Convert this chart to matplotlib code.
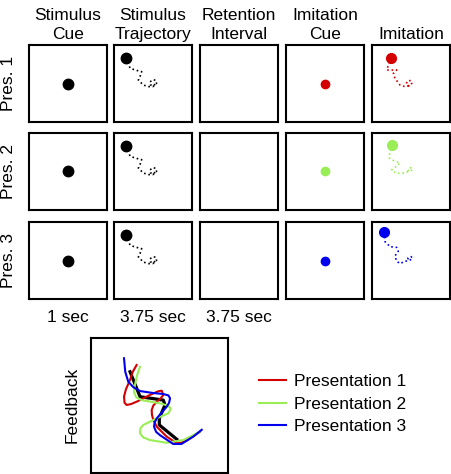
import matplotlib
matplotlib.use('Agg')
import matplotlib.pyplot as plt

plt.rcParams['font.family'] = ['Liberation Sans', 'DejaVu Sans']

col_titles = ['Stimulus\nCue', 'Stimulus\nTrajectory', 'Retention\nInterval', 'Imitation\nCue', 'Imitation']
row_labels = ['Pres. 1', 'Pres. 2', 'Pres. 3']
durations = ['1 sec', '3.75 sec', '3.75 sec']
pres_names = ['Presentation 1', 'Presentation 2', 'Presentation 3']
pres_colors = ['#d40000', '#99ee55', '#0000ee']

# stimulus trajectory (normalised box coords)
stim_x = [0.16, 0.205, 0.27, 0.355, 0.333, 0.312, 0.376, 0.44, 0.50, 0.545, 0.54, 0.50, 0.46, 0.47, 0.51, 0.53]
stim_y = [0.83, 0.70, 0.675, 0.654, 0.589, 0.545, 0.48, 0.46, 0.46, 0.50, 0.54, 0.55, 0.52, 0.48, 0.47, 0.50]

# imitation trajectories, one per presentation
imit_x = [
    [0.24, 0.19, 0.316, 0.274, 0.295, 0.359, 0.423, 0.47, 0.51, 0.50, 0.45, 0.44, 0.47, 0.50],
    [0.26, 0.23, 0.22, 0.27, 0.36, 0.316, 0.25, 0.316, 0.40, 0.47, 0.52, 0.50, 0.46, 0.47, 0.50],
    [0.155, 0.167, 0.231, 0.316, 0.337, 0.295, 0.316, 0.36, 0.423, 0.48, 0.52, 0.50, 0.46, 0.47],
]
imit_y = [
    [0.835, 0.675, 0.675, 0.632, 0.567, 0.48, 0.459, 0.47, 0.50, 0.54, 0.53, 0.49, 0.47, 0.50],
    [0.846, 0.76, 0.675, 0.645, 0.61, 0.57, 0.52, 0.474, 0.48, 0.50, 0.52, 0.55, 0.53, 0.50, 0.49],
    [0.866, 0.744, 0.68, 0.67, 0.62, 0.56, 0.49, 0.46, 0.49, 0.50, 0.53, 0.55, 0.53, 0.50],
]

# feedback panel traces
target_x = [0.285, 0.358, 0.528, 0.54, 0.4985, 0.4985, 0.626]
target_y = [0.75, 0.565, 0.54, 0.504, 0.405, 0.356, 0.25]
fb_x = [
    [0.333, 0.305, 0.285, 0.255, 0.241, 0.245, 0.26, 0.29, 0.333, 0.43, 0.49, 0.516, 0.528, 0.51, 0.48,
     0.455, 0.443, 0.445, 0.455, 0.48, 0.552, 0.626, 0.66, 0.698, 0.796],
    [0.358, 0.335, 0.321, 0.314, 0.33, 0.37, 0.504, 0.56, 0.582, 0.575, 0.564, 0.48, 0.382, 0.36, 0.358,
     0.38, 0.43, 0.552, 0.674, 0.796],
    [0.241, 0.25, 0.272, 0.31, 0.358, 0.45, 0.528, 0.565, 0.577, 0.57, 0.552, 0.48, 0.465, 0.46, 0.475,
     0.504, 0.60, 0.66, 0.747, 0.808],
]
fb_y = [
    [0.80, 0.75, 0.69, 0.62, 0.565, 0.52, 0.504, 0.51, 0.528, 0.578, 0.605, 0.61, 0.578, 0.555, 0.528,
     0.50, 0.467, 0.43, 0.393, 0.343, 0.27, 0.22, 0.225, 0.24, 0.306],
    [0.787, 0.72, 0.652, 0.60, 0.56, 0.54, 0.516, 0.50, 0.479, 0.46, 0.442, 0.405, 0.356, 0.33, 0.294,
     0.265, 0.244, 0.224, 0.244, 0.306],
    [0.85, 0.75, 0.676, 0.635, 0.607, 0.593, 0.585, 0.575, 0.553, 0.52, 0.49, 0.405, 0.375, 0.343, 0.305,
     0.28, 0.215, 0.215, 0.27, 0.32],
]

W, H = 452, 474
fig = plt.figure(figsize=(W / 100, H / 100), dpi=100)


def box(x, y, w, h):
    ax = fig.add_axes([x / W, 1 - (y + h) / H, w / W, h / H])
    ax.set_xlim(0, 1)
    ax.set_ylim(0, 1)
    ax.set_xticks([])
    ax.set_yticks([])
    for s in ax.spines.values():
        s.set_linewidth(1.5)
    return ax


col_x = [29, 114, 200, 286, 372]
row_y = [45, 133, 222]
bw, bh = 78, 77
fs = 12.5

for r in range(3):
    for c in range(5):
        ax = box(col_x[c], row_y[r], bw, bh)
        if c == 0:
            ax.plot(0.5, 0.5, 'o', color='black', ms=7.5)
        elif c == 1:
            ax.plot(stim_x, stim_y, ':', color='black', lw=1.2)
            ax.plot(stim_x[0], stim_y[0], 'o', color='black', ms=7.5)
        elif c == 3:
            ax.plot(0.5, 0.5, 'o', color=pres_colors[r], ms=6)
        elif c == 4:
            ax.plot(imit_x[r], imit_y[r], ':', color=pres_colors[r], lw=1.2)
            ax.plot(imit_x[r][0], imit_y[r][0], 'o', color=pres_colors[r], ms=7)
    fig.text(9 / W, 1 - (row_y[r] + bh / 2) / H, row_labels[r], rotation=90,
             ha='center', va='center', fontsize=fs)

for c in range(5):
    fig.text((col_x[c] + bw / 2) / W, 1 - 42 / H, col_titles[c],
             ha='center', va='bottom', fontsize=fs, linespacing=1.3)

for c in range(3):
    fig.text((col_x[c] + bw / 2) / W, 1 - 318 / H, durations[c],
             ha='center', va='center', fontsize=fs)

fb = box(91, 338, 137, 135)
fb.plot(target_x, target_y, color='black', lw=2.3)
for i in range(3):
    fb.plot(fb_x[i], fb_y[i], color=pres_colors[i], lw=1.5, label=pres_names[i])
fig.text(72 / W, 1 - 405 / H, 'Feedback', rotation=90, ha='center', va='center', fontsize=fs)

handles, labels = fb.get_legend_handles_labels()
fig.legend(handles, labels, loc='center left', bbox_to_anchor=(259 / W, 1 - 404 / H),
           frameon=False, fontsize=fs, handlelength=1.55, handletextpad=0.45,
           labelspacing=0.4, borderpad=0, borderaxespad=0)

fig.savefig('out.png', dpi=100)
